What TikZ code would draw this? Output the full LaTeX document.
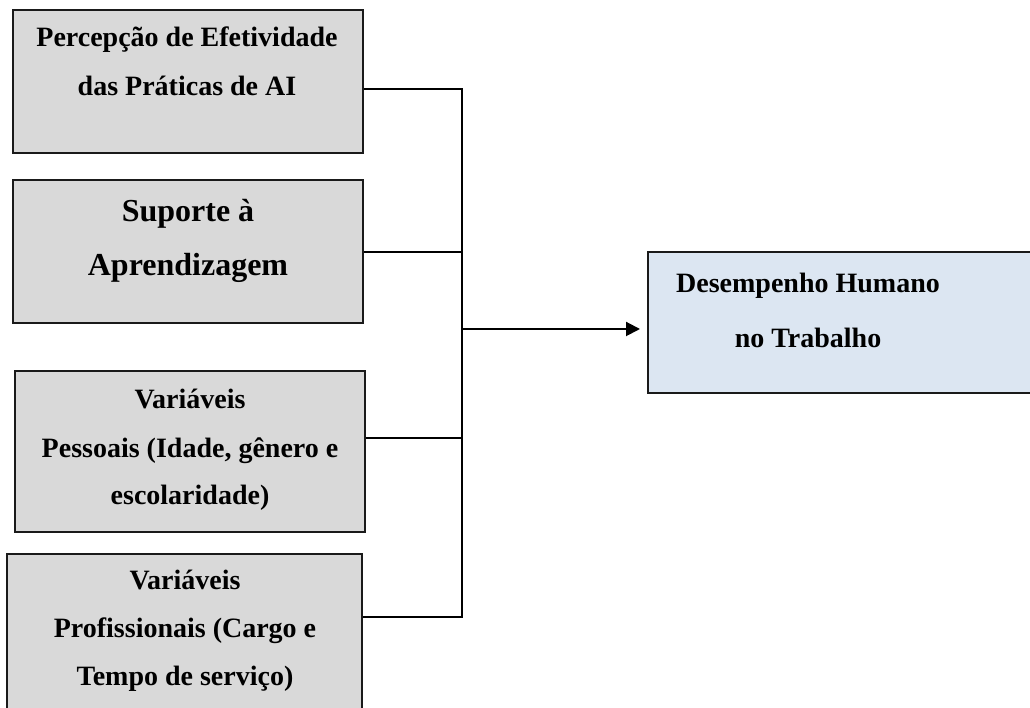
\documentclass[tikz,border=0pt]{standalone}
\usepackage{fontspec}
\setmainfont{Liberation Serif}
\usetikzlibrary{arrows.meta,calc}
\definecolor{boxgrey}{HTML}{D9D9D9}
\definecolor{boxblue}{HTML}{DCE6F2}
\definecolor{edge}{HTML}{1A1A1A}
\tikzset{
  factor/.style={draw=edge, line width=2pt, fill=boxgrey, inner sep=0pt},
  outcome/.style={draw=edge, line width=2pt, fill=boxblue, inner sep=0pt},
  txt/.style={anchor=base, inner sep=0pt, font=\bfseries\fontsize{28}{34}\selectfont},
  bigtxt/.style={anchor=base, inner sep=0pt, font=\bfseries\fontsize{32}{38}\selectfont},
  link/.style={draw=black, line width=2pt},
}
\begin{document}
\begin{tikzpicture}[x=1pt,y=1pt]
\useasboundingbox (0,0) rectangle (1030,708);

% antecedent boxes
\node[factor, minimum width=350pt, minimum height=143pt] (b1) at (188,626.5) {};
\node[factor, minimum width=350pt, minimum height=143pt] (b2) at (188,456.5) {};
\node[factor, minimum width=350pt, minimum height=161pt] (b3) at (190,256.5) {};
\node[factor, minimum width=355pt, minimum height=160pt] (b4) at (184.5,74) {};

% outcome box
\node[outcome, minimum width=390pt, minimum height=141pt] (out) at (843,385.5) {};

% box texts
\node[txt] (t11) at (187,661) {Percepção de Efetividade};
\node[txt] (t12) at (187,612) {das Práticas de AI};

\node[bigtxt] (t21) at (188,486) {Suporte à};
\node[bigtxt] (t22) at (188,432) {Aprendizagem};

\node[txt] (t31) at (190,299) {Variáveis};
\node[txt] (t32) at (190,250) {Pessoais (Idade, gênero e};
\node[txt] (t33) at (190,203) {escolaridade)};

\node[txt] (t41) at (185,118) {Variáveis};
\node[txt] (t42) at (185,70) {Profissionais (Cargo e};
\node[txt] (t43) at (185,22) {Tempo de serviço)};

\node[txt] (t51) at (808,415) {Desempenho Humano};
\node[txt] (t52) at (808,360) {no Trabalho};

% junction points on the collecting bus
\coordinate (j1) at (462,619);
\coordinate (j2) at (462,456);
\coordinate (j3) at (462,270);
\coordinate (j4) at (462,91);
\coordinate (jo) at (462,379);

% connectors
\draw[link] (j1 -| b1.east) -- (j1);
\draw[link] (j2 -| b2.east) -- (j2);
\draw[link] (j3 -| b3.east) -- (j3);
\draw[link] (j4 -| b4.east) -- (j4);
\draw[link, line cap=rect] (j1) -- (j4);
\draw[link, -{Triangle[length=14pt,width=14pt]}, shorten >=7pt] (jo) -- (jo -| out.west);
\end{tikzpicture}
\end{document}
